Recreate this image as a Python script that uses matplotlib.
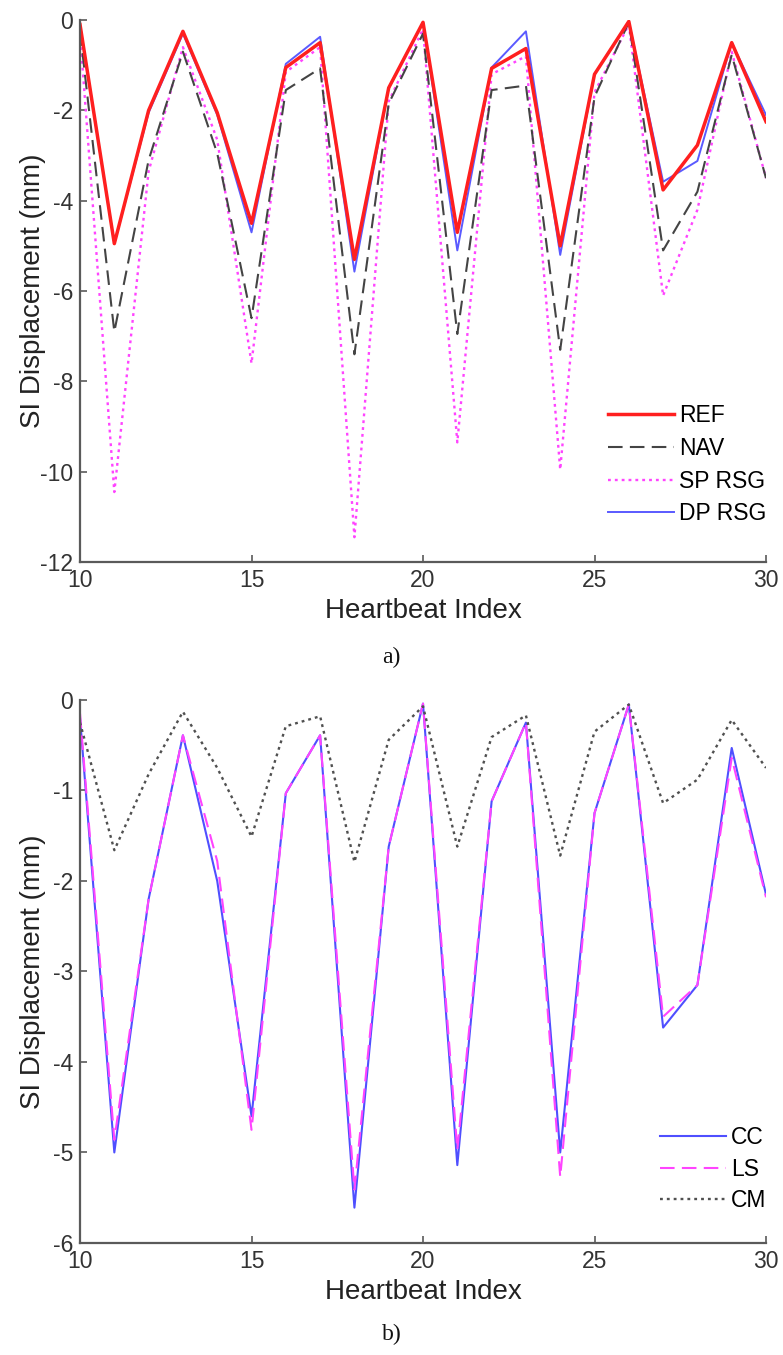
import matplotlib
matplotlib.use('Agg')
import matplotlib.pyplot as plt

plt.rcParams['font.family'] = ['Liberation Sans', 'DejaVu Sans']
plt.rcParams['axes.unicode_minus'] = False

# heartbeat index
beat = list(range(10, 31))

# panel a) SI displacement (mm)
ref = [-0.1, -4.95, -2.0, -0.25, -2.05, -4.5, -1.05, -0.5, -5.3, -1.5, -0.05,
       -4.7, -1.07, -0.63, -5.0, -1.2, -0.03, -3.76, -2.77, -0.5, -2.25]
nav = [-0.25, -6.9, -3.1, -0.7, -2.95, -6.6, -1.55, -1.07, -7.4, -1.85, -0.3,
       -6.95, -1.55, -1.45, -7.3, -1.7, -0.05, -5.1, -3.8, -0.77, -3.5]
sp_rsg = [-0.3, -10.45, -3.35, -0.6, -2.65, -7.6, -1.15, -0.6, -11.45, -1.8, -0.2,
          -9.35, -1.2, -0.8, -9.95, -1.6, -0.1, -6.1, -4.2, -0.7, -3.5]
dp_rsg = [-0.1, -4.95, -2.05, -0.3, -2.1, -4.7, -0.97, -0.37, -5.57, -1.5, -0.05,
          -5.1, -1.05, -0.25, -5.2, -1.2, -0.03, -3.58, -3.12, -0.5, -2.1]

# panel b)
cc = [-0.2, -5.0, -2.2, -0.39, -2.0, -4.6, -1.03, -0.39, -5.61, -1.62, -0.04,
      -5.14, -1.12, -0.25, -5.0, -1.25, -0.05, -3.62, -3.15, -0.53, -2.15]
ls = [-0.15, -4.86, -2.2, -0.39, -1.78, -4.75, -1.03, -0.39, -5.41, -1.62, -0.04,
      -4.97, -1.12, -0.25, -5.27, -1.25, -0.05, -3.5, -3.15, -0.64, -2.18]
cm = [-0.25, -1.66, -0.82, -0.13, -0.75, -1.51, -0.29, -0.18, -1.79, -0.44, -0.07,
      -1.62, -0.41, -0.17, -1.72, -0.35, -0.05, -1.14, -0.88, -0.22, -0.75]

axis_col = '#5a5a5a'
text_col = '#333333'


def style_axes(ax, ylim, yticks):
    ax.set_xlim(10, 30)
    ax.set_ylim(*ylim)
    ax.set_xticks([10, 15, 20, 25, 30])
    ax.set_yticks(yticks)
    for s in ['top', 'right']:
        ax.spines[s].set_visible(False)
    for s in ['left', 'bottom']:
        ax.spines[s].set_color(axis_col)
        ax.spines[s].set_linewidth(1.6)
    ax.tick_params(direction='in', length=5, width=1.2, color=axis_col,
                   labelsize=16.5, labelcolor=text_col, pad=5)
    ax.set_xlabel('Heartbeat Index', fontsize=20, color='#222222')
    ax.set_ylabel('SI Displacement (mm)', fontsize=20, color='#222222')
    ax.xaxis.set_label_coords(0.5, -0.066)
    ax.yaxis.set_label_coords(-0.05, 0.5)


fig = plt.figure(figsize=(7.83, 13.55), dpi=100)

# a)
ax1 = fig.add_axes([0.1022, 0.5852, 0.8761, 0.4])
l_sp, = ax1.plot(beat, sp_rsg, color='#ff44ff', lw=1.7, dashes=(1.2, 1.7), label='SP RSG')
l_nav, = ax1.plot(beat, nav, color='#444444', lw=1.5, dashes=(7, 3.5), label='NAV')
l_dp, = ax1.plot(beat, dp_rsg, color='#5a5aff', lw=1.4, label='DP RSG')
l_ref, = ax1.plot(beat, ref, color='#ff1f1f', lw=2.5, label='REF')
style_axes(ax1, (-12, 0), list(range(-12, 1, 2)))
ax1.legend(handles=[l_ref, l_nav, l_sp, l_dp], loc='lower right',
           bbox_to_anchor=(1.0, 0.068), frameon=False, fontsize=16.5,
           handlelength=2.9, handletextpad=0.2, labelspacing=0.42,
           borderaxespad=0, borderpad=0)

# b)
ax2 = fig.add_axes([0.1022, 0.0827, 0.8761, 0.4007])
l_cc, = ax2.plot(beat, cc, color='#4f4fff', lw=1.5, label='CC')
l_ls, = ax2.plot(beat, ls, color='#ff44ff', lw=1.5, dashes=(7, 3.5), label='LS')
l_cm, = ax2.plot(beat, cm, color='#505050', lw=1.7, dashes=(1.2, 1.7), label='CM')
style_axes(ax2, (-6, 0), list(range(-6, 1)))
ax2.legend(handles=[l_cc, l_ls, l_cm], loc='lower right',
           bbox_to_anchor=(1.0, 0.057), frameon=False, fontsize=16.5,
           handlelength=2.9, handletextpad=0.2, labelspacing=0.36,
           borderaxespad=0, borderpad=0)

fig.text(0.5, 0.515, 'a)', ha='center', va='center', fontsize=17,
         family='Liberation Serif', color='#111111')
fig.text(0.5, 0.0155, 'b)', ha='center', va='center', fontsize=17,
         family='Liberation Serif', color='#111111')

fig.savefig('out.png', dpi=100)
